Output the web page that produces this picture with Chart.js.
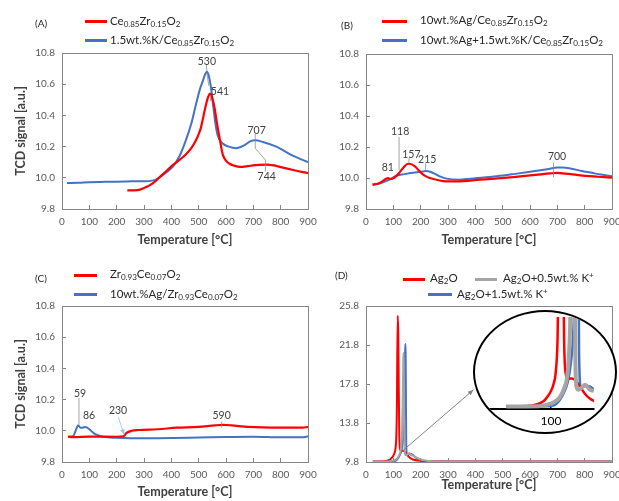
<!DOCTYPE html>
<html>
<head>
<meta charset="utf-8">
<script src="https://cdn.jsdelivr.net/npm/chart.js@4.4.0/dist/chart.umd.min.js"></script>
<style>
  html, body { margin: 0; padding: 0; background: #fff; }
  body { width: 619px; height: 501px; position: relative; overflow: hidden; font-family: Lato, sans-serif; color: #262626; }
  canvas { position: absolute; }
  .tag { position: absolute; font-size: 10px; line-height: 12px; color: #262626; }
  .key { position: absolute; height: 3px; }
  .txt { position: absolute; font-size: 11.5px; line-height: 16px; white-space: nowrap; color: #262626; }
  .txt sub { font-size: 70%; vertical-align: -0.3em; line-height: 0; }
  .txt sup { font-size: 70%; vertical-align: 0.45em; line-height: 0; }
  #zoom { position: absolute; left: 473px; top: 310px; width: 144px; height: 124px; box-sizing: border-box;
          border: 2px solid #000; border-radius: 50%; background: #fff; overflow: hidden; }
  #zoom canvas { left: 0; top: 0; }
</style>
</head>
<body>
<canvas id="chartA" width="330" height="250" style="left:0;top:0"></canvas>
<canvas id="chartB" width="309" height="250" style="left:310px;top:0"></canvas>
<canvas id="chartC" width="330" height="251" style="left:0;top:250px"></canvas>
<canvas id="chartD" width="309" height="251" style="left:310px;top:250px"></canvas>
<div id="zoom"><canvas id="chartZoom" width="140" height="120"></canvas></div>

<!-- legends -->
<div class="tag" style="left:35px;top:17px">(A)</div>
<div class="key" style="left:85px;top:19.5px;width:22px;background:#ff0000"></div>
<div class="txt" style="left:110px;top:13px">Ce<sub>0.85</sub>Zr<sub>0.15</sub>O<sub>2</sub></div>
<div class="key" style="left:85px;top:38.5px;width:22px;background:#4472c4"></div>
<div class="txt" style="left:110px;top:32px">1.5wt.%K/Ce<sub>0.85</sub>Zr<sub>0.15</sub>O<sub>2</sub></div>

<div class="tag" style="left:341px;top:19px">(B)</div>
<div class="key" style="left:382px;top:19.5px;width:25px;background:#ff0000"></div>
<div class="txt" style="left:420px;top:12px">10wt.%Ag/Ce<sub>0.85</sub>Zr<sub>0.15</sub>O<sub>2</sub></div>
<div class="key" style="left:382px;top:38.5px;width:25px;background:#4472c4"></div>
<div class="txt" style="left:420px;top:32px">10wt.%Ag+1.5wt.%K/Ce<sub>0.85</sub>Zr<sub>0.15</sub>O<sub>2</sub></div>

<div class="tag" style="left:35px;top:272px">(C)</div>
<div class="key" style="left:74px;top:273.5px;width:23px;background:#ff0000"></div>
<div class="txt" style="left:110px;top:266px">Zr<sub>0.93</sub>Ce<sub>0.07</sub>O<sub>2</sub></div>
<div class="key" style="left:74px;top:292.5px;width:23px;background:#4472c4"></div>
<div class="txt" style="left:110px;top:286px">10wt.%Ag/Zr<sub>0.93</sub>Ce<sub>0.07</sub>O<sub>2</sub></div>

<div class="tag" style="left:335px;top:269px">(D)</div>
<div class="key" style="left:403px;top:277.5px;width:22px;background:#ff0000"></div>
<div class="txt" style="left:430px;top:270px">Ag<sub>2</sub>O</div>
<div class="key" style="left:475px;top:277.5px;width:22px;background:#a5a5a5"></div>
<div class="txt" style="left:503px;top:270px">Ag<sub>2</sub>O+0.5wt.% K<sup>+</sup></div>
<div class="key" style="left:428px;top:292.5px;width:24px;background:#4472c4"></div>
<div class="txt" style="left:457px;top:286px">Ag<sub>2</sub>O+1.5wt.% K<sup>+</sup></div>

<script>
// tick labels
const xTicks = [0, 100, 200, 300, 400, 500, 600, 700, 800, 900];
const yTicksLow = [9.8, 10.0, 10.2, 10.4, 10.6, 10.8];
const yTicksD = [9.8, 13.8, 17.8, 21.8, 25.8];
const zoomTicks = [100];

// (A) Ce0.85Zr0.15O2
const tempA1 = [239, 260, 282, 300, 319, 340, 355, 380, 404, 430, 453, 475, 490, 500, 508, 518, 527, 535, 541, 548, 558, 566, 576, 588, 600, 613, 630, 650, 680, 699, 720, 748, 775, 797, 846, 900];
const tcdA1 = [9.92, 9.92, 9.923, 9.935, 9.95, 9.975, 10.0, 10.04, 10.08, 10.115, 10.15, 10.195, 10.24, 10.28, 10.32, 10.4, 10.47, 10.52, 10.54, 10.52, 10.45, 10.36, 10.26, 10.15, 10.11, 10.09, 10.078, 10.07, 10.075, 10.08, 10.083, 10.085, 10.08, 10.07, 10.05, 10.03];
// (A) 1.5wt.%K/Ce0.85Zr0.15O2
const tempA2 = [18, 60, 100, 160, 233, 300, 330, 345, 370, 404, 430, 453, 475, 490, 505, 515, 523, 530, 536, 545, 554, 562, 570, 588, 610, 637, 668, 690, 707, 735, 784, 846, 900];
const tcdA2 = [9.966, 9.968, 9.972, 9.974, 9.977, 9.978, 9.982, 9.99, 10.02, 10.068, 10.14, 10.24, 10.36, 10.47, 10.57, 10.62, 10.66, 10.68, 10.66, 10.58, 10.45, 10.34, 10.27, 10.22, 10.2, 10.19, 10.21, 10.235, 10.24, 10.23, 10.2, 10.14, 10.1];

// (B) 10wt.%Ag/Ce0.85Zr0.15O2
const tempB1 = [24, 45, 61, 73, 81, 88, 98, 110, 122, 138, 153, 160, 178, 190, 202, 218, 233, 255, 282, 331, 417, 539, 620, 674, 700, 711, 750, 784, 850, 900];
const tcdB1 = [9.957, 9.965, 9.98, 9.995, 10.0, 9.992, 9.996, 10.012, 10.034, 10.07, 10.092, 10.092, 10.077, 10.055, 10.032, 10.012, 10.0, 9.99, 9.98, 9.978, 9.989, 10.006, 10.02, 10.03, 10.033, 10.032, 10.025, 10.017, 10.008, 10.002];
// (B) 10wt.%Ag+1.5wt.%K/Ce0.85Zr0.15O2
const tempB2 = [24, 50, 73, 90, 110, 130, 150, 172, 200, 220, 235, 251, 270, 294, 343, 400, 478, 540, 600, 650, 699, 720, 747, 790, 821, 860, 900];
const tcdB2 = [9.957, 9.965, 9.98, 9.995, 10.013, 10.022, 10.028, 10.034, 10.04, 10.045, 10.04, 10.028, 10.01, 9.996, 9.989, 9.998, 10.011, 10.025, 10.04, 10.053, 10.067, 10.068, 10.062, 10.045, 10.035, 10.022, 10.011];

// (C) Zr0.93Ce0.07O2
const tempC1 = [22, 40, 100, 200, 225, 235, 255, 280, 350, 420, 500, 560, 590, 620, 680, 800, 880, 900];
const tcdC1 = [9.962, 9.96, 9.963, 9.962, 9.965, 9.985, 10.0, 10.005, 10.01, 10.02, 10.025, 10.035, 10.038, 10.035, 10.025, 10.02, 10.02, 10.025];
// (C) 10wt.%Ag/Zr0.93Ce0.07O2
const tempC2 = [22, 40, 52, 59, 68, 75, 86, 100, 120, 150, 200, 250, 350, 500, 600, 700, 800, 880, 900];
const tcdC2 = [9.962, 9.965, 10.01, 10.035, 10.02, 10.02, 10.025, 10.01, 9.98, 9.962, 9.955, 9.952, 9.953, 9.957, 9.96, 9.962, 9.958, 9.958, 9.965];

// (D) Ag2O
const tempD1 = [25, 60, 77, 88, 95, 100, 104, 108, 111, 113, 116, 118, 120, 122, 125, 128, 134, 140, 148, 157, 165, 175, 190, 210, 240, 300, 500, 900];
const tcdD1 = [9.84, 9.85, 9.92, 10.05, 10.25, 10.45, 10.7, 11.2, 12.5, 15.5, 24.8, 23.0, 17.0, 12.5, 11.1, 10.95, 10.95, 10.9, 10.65, 10.33, 10.15, 10.03, 9.95, 9.9, 9.87, 9.86, 9.86, 9.86];
// (D) Ag2O+0.5wt.% K+
const tempD2 = [25, 80, 93, 105, 115, 122, 127, 130, 132, 134, 136, 137, 138, 139.5, 141, 143, 146, 150, 157, 165, 172, 185, 200, 230, 270, 400, 900];
const tcdD2 = [9.83, 9.84, 9.9, 10.0, 10.2, 10.55, 11.0, 11.8, 13.0, 15.5, 19.5, 21.0, 20.0, 15.0, 11.5, 10.6, 10.5, 10.55, 10.7, 10.5, 10.45, 10.25, 10.05, 9.9, 9.85, 9.84, 9.84];
// (D) Ag2O+1.5wt.% K+
const tempD3 = [25, 90, 105, 115, 122, 128, 133, 137, 139, 141, 143, 144, 145, 146, 147, 150, 153, 158, 162, 170, 185, 200, 220, 250, 300, 900];
const tcdD3 = [9.83, 9.84, 9.88, 10.1, 10.4, 10.8, 11.5, 12.6, 14.0, 17.0, 21.0, 21.9, 21.0, 17.0, 12.0, 10.6, 10.6, 10.65, 10.65, 10.55, 10.2, 10.0, 9.9, 9.85, 9.84, 9.84];

// peak labels and leader lines, in data units
const notesA = [
  { text: '530', at: [530, 10.745], line: [[528, 10.725], [530, 10.685]] },
  { line: [[530, 10.675], [537, 10.59]] },
  { text: '541', at: [578, 10.55], line: [[543, 10.53], [543, 10.49]] },
  { text: '707', at: [712, 10.305], line: [[707, 10.28], [707, 10.19], [744, 10.115], [744, 10.04]] },
  { text: '744', at: [749, 10.005] }
];
const notesB = [
  { text: '81', at: [80, 10.07] },
  { text: '118', at: [125, 10.3], line: [[121, 10.265], [121, 10.05]] },
  { text: '157', at: [166, 10.148], line: [[157, 10.128], [157, 10.1]] },
  { text: '215', at: [224, 10.116], line: [[218, 10.095], [218, 10.05]] },
  { text: '700', at: [699, 10.135], line: [[686, 10.1], [686, 10.005]] }
];
const notesC = [
  { text: '59', at: [66, 10.236], line: [[62, 10.21], [62, 10.04]] },
  { text: '86', at: [99, 10.097] },
  { text: '230', at: [205, 10.127], line: [[206, 10.09], [227, 9.975]], arrow: true, color: '#9dc3e6' },
  { text: '590', at: [584, 10.097], line: [[584, 10.06], [584, 10.02]] }
];
const notesD = [
  { line: [[130, 10.85], [393, 17.2]], arrow: true, color: '#808080', width: 1 }
];

const RED = '#ff0000', BLUE = '#4472c4', GREY = '#a5a5a5', AXIS = '#868686';
Chart.defaults.font.family = 'Lato';

function pts(t, v) { return t.map((x, i) => ({ x: x, y: v[i] })); }
function series(t, v, color, w) {
  return { data: pts(t, v), borderColor: color, borderWidth: w || 2, pointRadius: 0,
           cubicInterpolationMode: 'monotone', fill: false };
}

const framePlugin = {
  id: 'frame',
  afterDraw(chart) {
    const { ctx, chartArea: a } = chart;
    ctx.save();
    ctx.strokeStyle = AXIS;
    ctx.lineWidth = 1;
    ctx.strokeRect(Math.round(a.left) + 0.5, Math.round(a.top) + 0.5,
                   Math.round(a.right - a.left), Math.round(a.bottom - a.top));
    ctx.restore();
  }
};

function notesPlugin(items) {
  return {
    id: 'notes',
    afterDatasetsDraw(chart) {
      const { ctx, scales: { x, y } } = chart;
      ctx.save();
      items.forEach(n => {
        if (n.line) {
          const p = n.line.map(([a, b]) => [x.getPixelForValue(a), y.getPixelForValue(b)]);
          ctx.beginPath();
          p.forEach(([px, py], i) => i ? ctx.lineTo(px, py) : ctx.moveTo(px, py));
          ctx.strokeStyle = n.color || '#8c8c8c';
          ctx.lineWidth = n.width || 0.8;
          ctx.stroke();
          if (n.arrow) {
            const [x0, y0] = p[p.length - 2], [x1, y1] = p[p.length - 1];
            const ang = Math.atan2(y1 - y0, x1 - x0), s = 6;
            ctx.beginPath();
            ctx.moveTo(x1, y1);
            ctx.lineTo(x1 - s * Math.cos(ang - 0.4), y1 - s * Math.sin(ang - 0.4));
            ctx.lineTo(x1 - s * Math.cos(ang + 0.4), y1 - s * Math.sin(ang + 0.4));
            ctx.closePath();
            ctx.fillStyle = n.color || '#8c8c8c';
            ctx.fill();
          }
        }
        if (n.text) {
          ctx.fillStyle = '#404040';
          ctx.font = '10.5px Lato';
          ctx.textAlign = 'center';
          ctx.textBaseline = 'middle';
          ctx.fillText(n.text, x.getPixelForValue(n.at[0]), y.getPixelForValue(n.at[1]));
        }
      });
      ctx.restore();
    }
  };
}

const useTicks = arr => s => { s.ticks = arr.map(v => ({ value: v })); };

function axes(yTicks, o) {
  return {
    x: {
      type: 'linear', min: 0, max: 900,
      afterBuildTicks: useTicks(xTicks),
      afterFit: s => { s.height = o.xh; s.paddingLeft = 0; s.paddingRight = 0; },
      grid: { drawOnChartArea: false, tickLength: -4, color: AXIS },
      border: { color: AXIS },
      ticks: { padding: 11, color: '#595959', font: { size: 10 }, maxRotation: 0, autoSkip: false },
      title: { display: true, text: 'Temperature [°C]', color: '#404040',
               font: { size: 12.5, weight: 'bold' }, padding: { top: 0, bottom: o.tb } }
    },
    y: {
      type: 'linear', min: yTicks[0], max: yTicks[yTicks.length - 1],
      afterBuildTicks: useTicks(yTicks),
      afterFit: s => { s.width = o.yw; s.paddingTop = 0; s.paddingBottom = 0; },
      grid: { drawOnChartArea: false, tickLength: -4, color: AXIS },
      border: { color: AXIS },
      ticks: { padding: 11, color: '#595959', font: { size: 10 }, callback: v => v.toFixed(1) },
      title: { display: !!o.yTitle, text: 'TCD signal [a.u.]', color: '#404040',
               font: { size: 12.5, weight: 'bold' }, padding: { top: 13, bottom: 0 } }
    }
  };
}

function panel(id, datasets, yTicks, o, notes) {
  return new Chart(document.getElementById(id), {
    type: 'line',
    data: { datasets: datasets },
    options: {
      responsive: false,
      animation: false,
      layout: { padding: o.pad },
      plugins: { legend: { display: false }, tooltip: { enabled: false } },
      scales: axes(yTicks, o)
    },
    plugins: [framePlugin, notesPlugin(notes)]
  });
}

panel('chartA', [series(tempA1, tcdA1, RED, 2.2), series(tempA2, tcdA2, BLUE)], yTicksLow,
  { pad: { top: 53, right: 22, left: 0, bottom: 0 }, yw: 62, xh: 41, tb: 3, yTitle: true }, notesA);

panel('chartB', [series(tempB1, tcdB1, RED, 2.2), series(tempB2, tcdB2, BLUE)], yTicksLow,
  { pad: { top: 54, right: 7, left: 0, bottom: 0 }, yw: 56, xh: 41, tb: 3 }, notesB);

panel('chartC', [series(tempC1, tcdC1, RED, 2.2), series(tempC2, tcdC2, BLUE)], yTicksLow,
  { pad: { top: 56, right: 22, left: 0, bottom: 0 }, yw: 62, xh: 39, tb: 2, yTitle: true }, notesC);

panel('chartD', [series(tempD2, tcdD2, GREY), series(tempD1, tcdD1, RED), series(tempD3, tcdD3, BLUE)], yTicksD,
  { pad: { top: 56, right: 7, left: 0, bottom: 0 }, yw: 56, xh: 39, tb: 9 }, notesD);

// magnified view of the Ag2O peaks
new Chart(document.getElementById('chartZoom'), {
  type: 'line',
  data: { datasets: [series(tempD2, tcdD2, GREY, 4), series(tempD1, tcdD1, RED, 2.5), series(tempD3, tcdD3, BLUE, 2.5)] },
  options: {
    responsive: false,
    animation: false,
    layout: { padding: { left: 12, top: 5, right: 21, bottom: 0 } },
    plugins: { legend: { display: false }, tooltip: { enabled: false } },
    scales: {
      x: {
        type: 'linear', min: -7, max: 172,
        afterBuildTicks: useTicks(zoomTicks),
        afterFit: s => { s.height = 23; s.paddingLeft = 0; s.paddingRight = 0; },
        grid: { drawOnChartArea: false, tickLength: -6, color: '#000', lineWidth: 1.5 },
        border: { color: '#000', width: 2 },
        ticks: { padding: 10.5, color: '#000', font: { size: 12 }, maxRotation: 0 }
      },
      y: { type: 'linear', min: 9.73, max: 13.4, display: false }
    }
  }
});
</script>
</body>
</html>
